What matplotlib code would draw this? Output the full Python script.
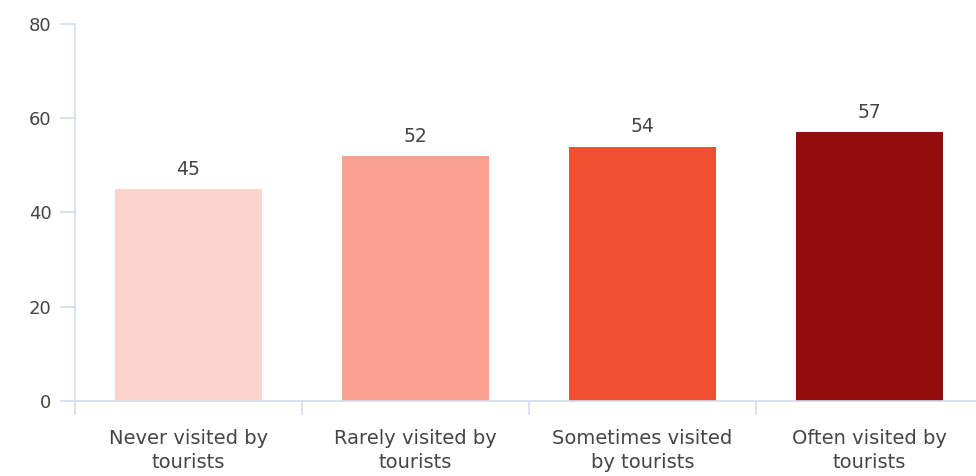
import matplotlib.pyplot as plt
import numpy as np

categories = ["Never visited by\ntourists", "Rarely visited by\ntourists",
              "Sometimes visited\nby tourists", "Often visited by\ntourists"]
values = [45, 52, 54, 57]
colors = ["#fdd4cd", "#f9a090", "#f04e30", "#920e0c"]
y_ticks = [0, 20, 40, 60, 80]

plt.rcParams["font.family"] = ["DejaVu Sans"]
axis_col = "#d3dcef"
text_col = "#454545"

fig = plt.figure(figsize=(9.76, 4.76), dpi=100)
ax = fig.add_axes([0.0768, 0.1576, 1.007 - 0.0768, 0.9496 - 0.1576])

x = np.arange(len(values)) + 0.5
bars = ax.bar(x, values, width=0.645, color=colors, linewidth=0)
for xi, v in zip(x, values):
    ax.text(xi, v + 2.2, str(v), ha="center", va="bottom", fontsize=13.5, color=text_col)

ax.set_xlim(0, len(values))
ax.set_ylim(0, 80)
ax.set_yticks(y_ticks)
ax.set_xticks(np.arange(len(values) + 1))
ax.set_xticklabels([])
ax.set_xticks(x, minor=True)
ax.set_xticklabels(categories, minor=True, fontsize=14, color=text_col, linespacing=1.35)

ax.tick_params(axis="y", length=11, width=1.2, color=axis_col, labelsize=13,
               labelcolor=text_col, pad=6)
ax.tick_params(axis="x", which="major", length=10, width=1.2, color=axis_col)
ax.tick_params(axis="x", which="minor", length=0, pad=20)

for side in ("top", "right"):
    ax.spines[side].set_visible(False)
for side in ("left", "bottom"):
    ax.spines[side].set_color(axis_col)
    ax.spines[side].set_linewidth(1.2)

fig.savefig("out.png", dpi=100)
